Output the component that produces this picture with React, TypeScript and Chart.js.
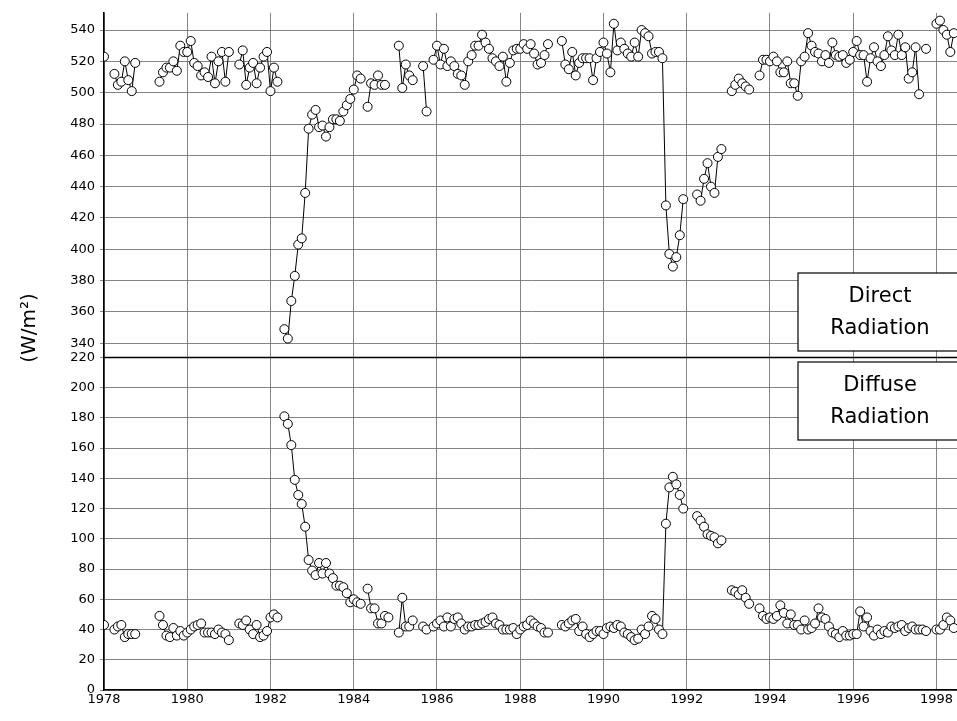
import React, { useEffect, useRef } from 'react';
import { Chart, registerables } from 'chart.js';

Chart.register(...registerables);

// Monthly means, one row of 12 per year, 1978 .. 1998 (null = no data)
const years = [1978, 1979, 1980, 1981, 1982, 1983, 1984, 1985, 1986, 1987, 1988, 1989, 1990, 1991, 1992, 1993, 1994, 1995, 1996, 1997, 1998];
const N = null;

const directRows: (number | null)[][] = [
  [523, N, N, 512, 505, 507, 520, 508, 501, 519, N, N],
  [N, N, N, N, 507, 513, 516, 516, 520, 514, 530, 526],
  [526, 533, 519, 517, 511, 513, 510, 523, 506, 520, 526, 507],
  [526, N, N, 518, 527, 505, 516, 519, 506, 516, 523, 526],
  [501, 516, 507, N, 349, 343, 367, 383, 403, 407, 436, 477],
  [486, 489, 478, 479, 472, 478, 483, 483, 482, 488, 492, 496],
  [502, 511, 509, N, 491, 506, 505, 511, 505, 505, N, N],
  [N, 530, 503, 518, 511, 508, N, N, 517, 488, N, 521],
  [530, 518, 528, 517, 520, 517, 512, 511, 505, 520, 524, 530],
  [530, 537, 532, 528, 522, 520, 517, 523, 507, 519, 527, 528],
  [528, 531, 528, 531, 525, 518, 519, 524, 531, N, N, N],
  [533, 518, 515, 526, 511, 519, 522, 522, 522, 508, 522, 526],
  [532, 525, 513, 544, 527, 532, 528, 525, 523, 532, 523, 540],
  [538, 536, 525, 526, 526, 522, 428, 397, 389, 395, 409, 432],
  [N, N, N, 435, 431, 445, 455, 440, 436, 459, 464, N],
  [N, 501, 505, 509, 506, 504, 502, N, N, 511, 521, 521],
  [520, 523, 520, 513, 513, 520, 506, 506, 498, 520, 523, 538],
  [530, 526, 525, 520, 524, 519, 532, 524, 523, 524, 519, 521],
  [526, 533, 524, 524, 507, 522, 529, 520, 517, 524, 536, 527],
  [524, 537, 524, 529, 509, 513, 529, 499, N, 528, N, N],
  [544, 546, 540, 537, 526, 538],
];

const diffuseRows: (number | null)[][] = [
  [43, N, N, 40, 42, 43, 35, 37, 37, 37, N, N],
  [N, N, N, N, 49, 43, 36, 35, 41, 36, 39, 36],
  [38, 40, 42, 43, 44, 38, 38, 38, 37, 40, 38, 37],
  [33, N, N, 44, 43, 46, 40, 37, 43, 35, 36, 39],
  [48, 50, 48, N, 181, 176, 162, 139, 129, 123, 108, 86],
  [79, 76, 84, 77, 84, 77, 74, 69, 69, 68, 64, 58],
  [60, 58, 57, N, 67, 54, 54, 44, 44, 49, 48, N],
  [N, 38, 61, 42, 42, 46, N, N, 42, 40, N, 42],
  [44, 46, 42, 48, 42, 47, 48, 44, 40, 42, 42, 43],
  [43, 44, 45, 47, 48, 44, 43, 40, 40, 40, 41, 37],
  [40, 42, 43, 46, 44, 42, 41, 38, 38, N, N, N],
  [43, 42, 44, 46, 47, 39, 42, 37, 35, 37, 39, 39],
  [37, 41, 42, 41, 43, 42, 38, 37, 35, 33, 34, 40],
  [37, 42, 49, 47, 40, 37, 110, 134, 141, 136, 129, 120],
  [N, N, N, 115, 112, 108, 103, 102, 101, 97, 99, N],
  [N, 66, 65, 63, 66, 61, 57, N, N, 54, 49, 47],
  [48, 47, 49, 56, 51, 44, 50, 43, 43, 40, 46, 40],
  [41, 44, 54, 48, 47, 42, 38, 37, 35, 39, 36, 36],
  [37, 37, 52, 42, 48, 39, 36, 40, 37, 39, 38, 42],
  [41, 42, 43, 39, 41, 42, 40, 40, 40, 39, N, N],
  [40, 40, 43, 48, 46, 41],
];

const xTicks = [1978, 1980, 1982, 1984, 1986, 1988, 1990, 1992, 1994, 1996, 1998];
const directTicks = [340, 360, 380, 400, 420, 440, 460, 480, 500, 520, 540];
const diffuseTicks = [0, 20, 40, 60, 80, 100, 120, 140, 160, 180, 200, 220];

const toPoints = (rows: (number | null)[][]) =>
  rows.flatMap((row, i) => row.map((v, m) => ({ x: years[i] + m / 12, y: v })));

const FONT = '"DejaVu Sans", sans-serif';

const labels = {
  id: 'labels',
  afterDraw(chart: Chart) {
    const { ctx, chartArea } = chart;
    const yTop = chart.scales.yDirect;
    ctx.save();
    // panel separator
    ctx.strokeStyle = '#000';
    ctx.lineWidth = 1.5;
    ctx.beginPath();
    ctx.moveTo(chartArea.left, yTop.bottom);
    ctx.lineTo(chartArea.right, yTop.bottom);
    ctx.stroke();
    // axis title
    ctx.fillStyle = '#000';
    ctx.font = `20px ${FONT}`;
    ctx.translate(30, 328);
    ctx.rotate(-Math.PI / 2);
    ctx.textAlign = 'center';
    ctx.textBaseline = 'middle';
    ctx.fillText('(W/m²)', 0, 0);
    ctx.restore();

    const box = (y: number, l1: string, l2: string) => {
      ctx.save();
      ctx.fillStyle = '#fff';
      ctx.fillRect(798, y, 175, 78);
      ctx.strokeStyle = '#000';
      ctx.lineWidth = 1.2;
      ctx.strokeRect(798, y, 175, 78);
      ctx.fillStyle = '#000';
      ctx.font = `21px ${FONT}`;
      ctx.textAlign = 'center';
      ctx.textBaseline = 'middle';
      ctx.fillText(l1, 880, y + 24);
      ctx.fillText(l2, 880, y + 56);
      ctx.restore();
    };
    box(273, 'Direct', 'Radiation');
    box(362, 'Diffuse', 'Radiation');
  },
};

const App: React.FC = () => {
  const canvasRef = useRef<HTMLCanvasElement>(null);
  const chartRef = useRef<Chart | null>(null);

  useEffect(() => {
    document.body.style.margin = '0';
    if (!canvasRef.current) return;
    if (chartRef.current) chartRef.current.destroy();

    const ds = (label: string, axis: string, rows: (number | null)[][]) => ({
      label,
      data: toPoints(rows),
      yAxisID: axis,
      borderColor: '#000',
      borderWidth: 1,
      pointRadius: 4.5,
      pointBackgroundColor: '#fff',
      pointBorderColor: '#000',
      pointBorderWidth: 1,
      spanGaps: false,
      tension: 0,
    });

    const grid = { color: '#666', lineWidth: 0.8 };
    const tickFont = { family: FONT, size: 13 };

    chartRef.current = new Chart(canvasRef.current, {
      type: 'line',
      data: {
        datasets: [ds('Direct Radiation', 'yDirect', directRows), ds('Diffuse Radiation', 'yDiffuse', diffuseRows)] as any,
      },
      options: {
        animation: false,
        responsive: false,
        layout: { padding: { top: 10, right: 0, left: 0, bottom: 0 } },
        plugins: { legend: { display: false }, tooltip: { enabled: false } },
        scales: {
          x: {
            type: 'linear',
            min: 1978,
            max: 1998.53,
            afterBuildTicks: (s: any) => { s.ticks = xTicks.map((v) => ({ value: v })); },
            afterFit: (s: any) => { s.height = 31; s.paddingRight = 0; s.paddingLeft = 0; },
            ticks: { color: '#000', font: tickFont, padding: 2, maxRotation: 0, autoSkip: false, callback: (v: any) => String(v) },
            grid: { ...grid, drawTicks: false },
            border: { color: '#000', width: 1.5 },
          },
          yDiffuse: {
            type: 'linear',
            position: 'left',
            stack: 'y',
            stackWeight: 334,
            offset: false,
            min: 0,
            max: 220,
            afterBuildTicks: (s: any) => { s.ticks = diffuseTicks.map((v) => ({ value: v })); },
            afterFit: (s: any) => { s.width = 104; },
            ticks: { color: '#000', font: tickFont, padding: 5, autoSkip: false },
            grid: { ...grid, tickLength: 4 },
            border: { color: '#000', width: 1.5 },
          },
          yDirect: {
            type: 'linear',
            position: 'left',
            stack: 'y',
            stackWeight: 346,
            offset: false,
            min: 331,
            max: 551,
            afterBuildTicks: (s: any) => { s.ticks = directTicks.map((v) => ({ value: v })); },
            afterFit: (s: any) => { s.width = 104; },
            ticks: { color: '#000', font: tickFont, padding: 5, autoSkip: false },
            grid: { ...grid, tickLength: 4 },
            border: { color: '#000', width: 1.5 },
          },
        },
      },
      plugins: [labels],
    });

    return () => {
      chartRef.current?.destroy();
      chartRef.current = null;
    };
  }, []);

  return (
    <div style={{ width: 957, height: 721, background: '#fff', overflow: 'hidden' }}>
      <canvas ref={canvasRef} width={964} height={721} />
    </div>
  );
};

export default App;
